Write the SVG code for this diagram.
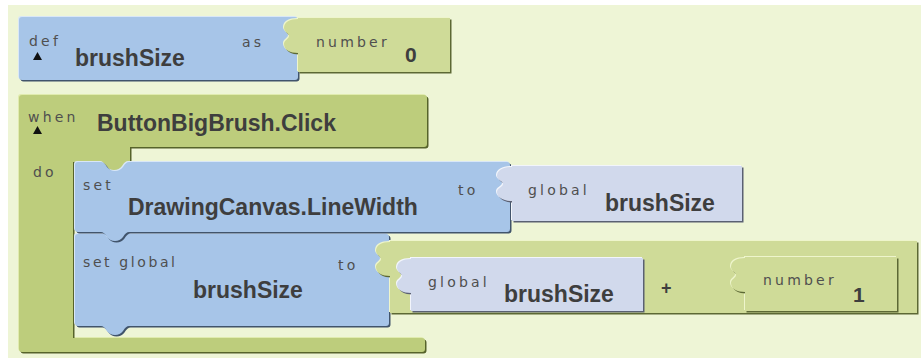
<svg xmlns="http://www.w3.org/2000/svg" xmlns:xlink="http://www.w3.org/1999/xlink" width="921" height="358" viewBox="0 0 921 358">
  <style>
    .blue { fill: #A7C5E8; }
    .blue-hi { fill: #D9E7F7; }
    .blue-sh { fill: #41546B; }
    .grn { fill: #BDCD7C; }
    .grn-hi { fill: #E0EBAE; }
    .grn-sh { fill: #56632A; }
    .lg { fill: #CFDB98; }
    .lg-hi { fill: #EEF5CC; }
    .lg-sh { fill: #5C6834; }
    .lav { fill: #D1D9EC; }
    .lav-hi { fill: #F2F5FB; }
    .lav-sh { fill: #5A6072; }
    .lbl { font-family: "DejaVu Sans", "Liberation Sans", sans-serif; font-size: 14px; letter-spacing: 3.2px; fill: #4F4F4F; }
    .name { font-family: "Liberation Sans", Arial, sans-serif; font-size: 23px; font-weight: bold; fill: #3E3E3E; }
    .num { font-family: "Liberation Sans", Arial, sans-serif; font-size: 21px; font-weight: bold; fill: #3E3E3E; }
    .tri { fill: #111111; }
  </style>
  <defs>
    <!-- block outlines; sockets are covered by the plugged-in child's tab -->
    <path id="p-def" d="M19,20 Q19,17 22,17 H295 Q298,17 298,20 V77 Q298,80 295,80 H22 Q19,80 19,77 Z"/>
    <path id="p-num0" d="M298,18 H450 V72 H298 V53 C290,53 284,50 284,44 C284,40 289,39 289,36 C289,33 284,32 284,28 C284,22 290,19 298,19 Z"/>
    <path id="p-when" d="M19,98 Q19,95 22,95 H424 Q427,95 427,98 V144 Q427,147 424,147 H130 V162 H129 Q126,162 123,167 Q120,171 115,171 Q110,171 107,167 Q104,162 101,162 H73 V338 H422 Q425,338 425,341 V349 Q425,352 422,352 H22 Q19,352 19,349 Z"/>
    <path id="p-set1" d="M75,165 Q75,162 78,162 H101 Q104,162 107,167 Q110,171 115,171 Q120,171 123,167 Q126,162 129,162 H507 Q510,162 510,165 V229 Q510,232 507,232 H129 Q126,232 123,237 Q120,241 115,241 Q110,241 107,237 Q104,232 101,232 H78 Q75,232 75,229 Z"/>
    <path id="p-get1" d="M512,166 H742 V221 H512 V201 C504,201 497,198 497,192 C497,188 503,187 503,184 C503,181 497,180 497,176 C497,170 504,167 512,167 Z"/>
    <path id="p-set2" d="M75,237 Q75,234 78,234 H386 Q389,234 389,237 V323 Q389,326 386,326 H129 Q126,326 123,331 Q120,335 115,335 Q110,335 107,331 Q104,326 101,326 H78 Q75,326 75,323 Z"/>
    <path id="p-plus" d="M390,241 H917 V313 H390 V276 C382,276 376,273 376,267 C376,263 381,262 381,259 C381,256 376,255 376,251 C376,245 382,242 390,242 Z"/>
    <path id="p-get2" d="M411,258 H643 V311 H411 V293 C403,293 397,290 397,284 C397,280 402,279 402,276 C402,273 397,272 397,268 C397,262 403,259 411,259 Z"/>
    <path id="p-num1" d="M745,257 H897 V311 H745 V292 C737,292 731,289 731,283 C731,279 736,278 736,275 C736,272 731,271 731,267 C731,261 737,258 745,258 Z"/>
  </defs>

  <!-- workspace -->
  <rect x="0" y="0" width="921" height="358" fill="#FFFFFF"/>
  <rect x="8" y="5" width="913" height="353" fill="#EEF5D6"/>

  <!-- def brushSize as number 0 -->
  <g id="def-brushSize">
    <use xlink:href="#p-def" class="blue-hi" transform="translate(-1,-1)"/>
    <use xlink:href="#p-def" class="blue-sh" transform="translate(1.5,1.5)"/>
    <use xlink:href="#p-def" class="blue"/>
    <text class="lbl" x="29" y="46">def</text>
    <polygon class="tri" points="33,60 42,60 37.5,52"/>
    <text class="name" x="75" y="66">brushSize</text>
    <text class="lbl" x="242" y="47">as</text>
  </g>
  <g id="number-0">
    <use xlink:href="#p-num0" class="lg-hi" transform="translate(-1,-1)"/>
    <use xlink:href="#p-num0" class="lg-sh" transform="translate(1.5,1.5)"/>
    <use xlink:href="#p-num0" class="lg"/>
    <text class="lbl" x="316" y="47">number</text>
    <text class="num" x="405" y="62">0</text>
  </g>

  <!-- when ButtonBigBrush.Click do -->
  <g id="when-click">
    <use xlink:href="#p-when" class="grn-hi" transform="translate(-1,-1)"/>
    <use xlink:href="#p-when" class="grn-sh" transform="translate(1.5,1.5)"/>
    <use xlink:href="#p-when" class="grn"/>
    <text class="lbl" x="28" y="122">when</text>
    <polygon class="tri" points="33,134 42,134 37.5,126"/>
    <text class="name" x="97" y="131">ButtonBigBrush.Click</text>
    <text class="lbl" x="33" y="177">do</text>
  </g>

  <!-- set global brushSize to (global brushSize + number 1) -->
  <g id="set-global-brushSize">
    <use xlink:href="#p-set2" class="blue-hi" transform="translate(-1,-1)"/>
    <use xlink:href="#p-set2" class="blue-sh" transform="translate(1.5,1.5)"/>
    <use xlink:href="#p-set2" class="blue"/>
    <text class="lbl" x="83" y="267" style="letter-spacing:2.6px">set global</text>
    <text class="name" x="193" y="298">brushSize</text>
    <text class="lbl" x="338" y="270">to</text>
  </g>

  <!-- set DrawingCanvas.LineWidth to global brushSize -->
  <g id="set-linewidth">
    <use xlink:href="#p-set1" class="blue-hi" transform="translate(-1,-1)"/>
    <use xlink:href="#p-set1" class="blue-sh" transform="translate(1.5,1.5)"/>
    <use xlink:href="#p-set1" class="blue"/>
    <text class="lbl" x="83" y="190">set</text>
    <text class="name" x="128" y="215">DrawingCanvas.LineWidth</text>
    <text class="lbl" x="458" y="195">to</text>
  </g>
  <g id="get-global-1">
    <use xlink:href="#p-get1" class="lav-hi" transform="translate(-1,-1)"/>
    <use xlink:href="#p-get1" class="lav-sh" transform="translate(1.5,1.5)"/>
    <use xlink:href="#p-get1" class="lav"/>
    <text class="lbl" x="528" y="195">global</text>
    <text class="name" x="605" y="211">brushSize</text>
  </g>

  <g id="plus">
    <use xlink:href="#p-plus" class="lg-hi" transform="translate(-1,-1)"/>
    <use xlink:href="#p-plus" class="lg-sh" transform="translate(1.5,1.5)"/>
    <use xlink:href="#p-plus" class="lg"/>
    <text class="num" x="661" y="294" style="font-size:18px">+</text>
  </g>
  <g id="get-global-2">
    <use xlink:href="#p-get2" class="lav-hi" transform="translate(-1,-1)"/>
    <use xlink:href="#p-get2" class="lav-sh" transform="translate(1.5,1.5)"/>
    <use xlink:href="#p-get2" class="lav"/>
    <text class="lbl" x="428" y="287">global</text>
    <text class="name" x="504" y="302">brushSize</text>
  </g>
  <g id="number-1">
    <use xlink:href="#p-num1" class="lg-hi" transform="translate(-1,-1)"/>
    <use xlink:href="#p-num1" class="lg-sh" transform="translate(1.5,1.5)"/>
    <use xlink:href="#p-num1" class="lg"/>
    <text class="lbl" x="763" y="285">number</text>
    <text class="num" x="853" y="302">1</text>
  </g>
</svg>
